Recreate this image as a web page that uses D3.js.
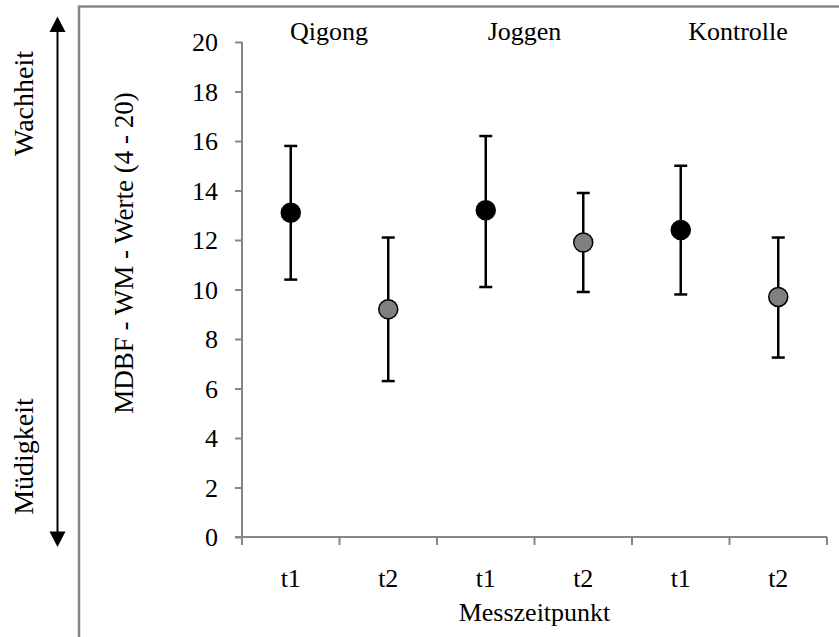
<!DOCTYPE html>
<html>
<head>
<meta charset="utf-8">
<script src="https://cdn.jsdelivr.net/npm/d3@7"></script>
</head>
<body style="margin:0">
<svg id="chart" width="839" height="637" font-family="Liberation Serif"></svg>
<script>
// Data
const groups = ["Qigong", "Joggen", "Kontrolle"];
const categories = ["Qigong t1", "Qigong t2", "Joggen t1", "Joggen t2", "Kontrolle t1", "Kontrolle t2"];
const tickLabels = ["t1", "t2", "t1", "t2", "t1", "t2"];
const means = [13.1, 9.2, 13.2, 11.9, 12.4, 9.7];
const upper = [15.8, 12.1, 16.2, 13.9, 15.0, 12.1];
const lower = [10.4, 6.3, 10.1, 9.9, 9.8, 7.25];
const timepoint = ["t1", "t2", "t1", "t2", "t1", "t2"];
const yTicks = [0, 2, 4, 6, 8, 10, 12, 14, 16, 18, 20];
const groupLabelX = [329, 524.5, 738];

const FONT = "Liberation Serif";
const svg = d3.select("#chart");
const fontSize = 26;
const axisColor = "#868686";

function label(sel, size) {
  return sel.attr("font-family", FONT).attr("font-size", size || fontSize).attr("fill", "#000");
}

// Frame (partially visible)
svg.append("path")
  .attr("d", "M79,640 L79,6.5 L845,6.5")
  .attr("fill", "none").attr("stroke", axisColor).attr("stroke-width", 2.5);

const x = d3.scaleBand().domain(categories).range([242, 827]).padding(0);
const y = d3.scaleLinear().domain([0, 20]).range([537, 42]);

// Y axis
const yAxis = d3.axisLeft(y).tickValues(yTicks).tickSize(7).tickPadding(17).tickFormat(d3.format("d"));
const gy = svg.append("g").attr("transform", "translate(242,0)").call(yAxis);
gy.attr("font-family", FONT).attr("font-size", fontSize);
gy.select(".domain").attr("stroke", axisColor).attr("stroke-width", 2).attr("d", "M0,42V545");
gy.selectAll(".tick line").attr("stroke", axisColor).attr("stroke-width", 2);
label(gy.selectAll(".tick text")).attr("dy", "0.34em");

// X axis
const boundaries = categories.map(c => x(c)).concat([827]);
const gx = svg.append("g");
gx.append("line").attr("x1", 235).attr("x2", 827).attr("y1", 537).attr("y2", 537)
  .attr("stroke", axisColor).attr("stroke-width", 2);
gx.selectAll("line.xt").data(boundaries).join("line").attr("class", "xt")
  .attr("x1", d => d).attr("x2", d => d).attr("y1", 537).attr("y2", 545)
  .attr("stroke", axisColor).attr("stroke-width", 2);
label(gx.selectAll("text.xl").data(categories).join("text").attr("class", "xl"))
  .attr("x", d => x(d) + x.bandwidth() / 2).attr("y", 587)
  .attr("text-anchor", "middle")
  .text((d, i) => tickLabels[i]);

// Axis titles
label(svg.append("text")).attr("x", 534.5).attr("y", 621).attr("text-anchor", "middle")
  .text("Messzeitpunkt");
label(svg.append("text"), 27).attr("transform", "translate(133,253) rotate(-90)").attr("text-anchor", "middle")
  .text("MDBF - WM - Werte (4 - 20)");

// Group labels
label(svg.selectAll("text.grp").data(groups).join("text").attr("class", "grp"))
  .attr("x", (d, i) => groupLabelX[i]).attr("y", 40).attr("text-anchor", "middle")
  .text(d => d);

// Side arrow and labels
svg.append("line").attr("x1", 57.5).attr("x2", 57.5).attr("y1", 30).attr("y2", 533)
  .attr("stroke", "#000").attr("stroke-width", 2);
svg.append("path").attr("d", "M57.5,16.5 L49.5,32 L65.5,32 Z").attr("fill", "#000");
svg.append("path").attr("d", "M57.5,547 L49.5,531.5 L65.5,531.5 Z").attr("fill", "#000");
label(svg.append("text"), 28).attr("transform", "translate(33,103.5) rotate(-90)").attr("text-anchor", "middle")
  .text("Wachheit");
label(svg.append("text"), 28).attr("transform", "translate(33,456.5) rotate(-90)").attr("text-anchor", "middle")
  .text("Müdigkeit");

// Error bars
const cx = d => x(d) + x.bandwidth() / 2;
const eb = svg.append("g");
categories.forEach((c, i) => {
  const g = eb.append("g");
  g.append("line").attr("x1", cx(c)).attr("x2", cx(c)).attr("y1", y(lower[i])).attr("y2", y(upper[i]))
    .attr("stroke", "#000").attr("stroke-width", 2.5);
  [upper[i], lower[i]].forEach(v => {
    g.append("line").attr("x1", cx(c) - 6.5).attr("x2", cx(c) + 6.5).attr("y1", y(v)).attr("y2", y(v))
      .attr("stroke", "#000").attr("stroke-width", 2.5);
  });
});

// Points
svg.selectAll("circle.pt").data(categories).join("circle").attr("class", "pt")
  .attr("cx", d => cx(d)).attr("cy", (d, i) => y(means[i])).attr("r", 9.5)
  .attr("fill", (d, i) => timepoint[i] === "t1" ? "#000" : "#808080")
  .attr("stroke", "#000").attr("stroke-width", 1.5);
</script>
</body>
</html>
